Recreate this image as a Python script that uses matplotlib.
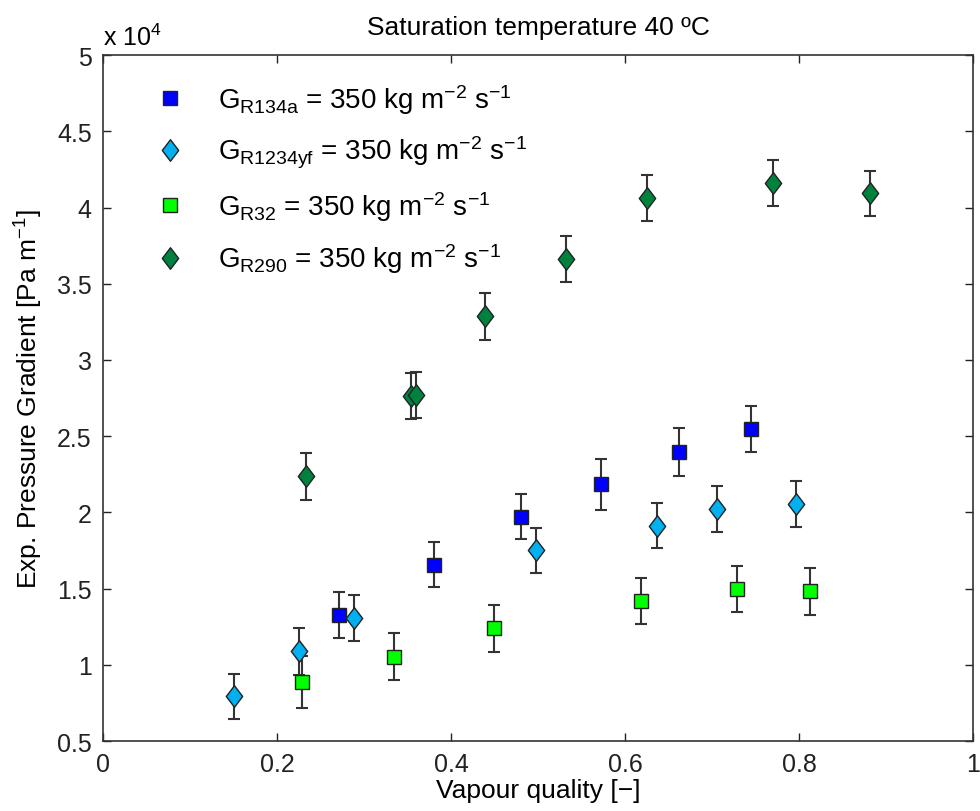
import numpy as np
import matplotlib
matplotlib.use('Agg')
import matplotlib.pyplot as plt
from matplotlib.path import Path
from matplotlib.ticker import FuncFormatter, MultipleLocator

plt.rcParams['font.family'] = ['Liberation Sans', 'DejaVu Sans']
plt.rcParams['mathtext.fontset'] = 'custom'
plt.rcParams['mathtext.rm'] = 'Liberation Sans'
plt.rcParams['mathtext.it'] = 'Liberation Sans'
plt.rcParams['mathtext.default'] = 'regular'

# Experimental pressure gradient [Pa/m] vs vapour quality, G = 350 kg m-2 s-1
x_r134a = [0.271, 0.381, 0.480, 0.572, 0.662, 0.745]
y_r134a = [13270, 16570, 19720, 21840, 23940, 25470]
e_r134a = [1500, 1480, 1480, 1680, 1570, 1500]

x_r1234yf = [0.151, 0.225, 0.289, 0.498, 0.637, 0.706, 0.797]
y_r1234yf = [7950, 10900, 13070, 17510, 19120, 20230, 20550]
e_r1234yf = [1480, 1550, 1500, 1500, 1480, 1480, 1500]

x_r32 = [0.229, 0.334, 0.449, 0.618, 0.729, 0.813]
y_r32 = [8870, 10530, 12390, 14190, 14970, 14820]
e_r32 = [1700, 1550, 1570, 1520, 1520, 1520]

x_r290 = [0.233, 0.354, 0.360, 0.439, 0.532, 0.625, 0.770, 0.882]
y_r290 = [22370, 27660, 27700, 32870, 36630, 40610, 41610, 40940]
e_r290 = [1530, 1500, 1500, 1550, 1530, 1500, 1500, 1480]

# MATLAB-style diamond: taller than wide
diamond = Path([(0, 1), (0.76, 0), (0, -1), (-0.76, 0), (0, 1)],
               [Path.MOVETO, Path.LINETO, Path.LINETO, Path.LINETO, Path.CLOSEPOLY])

series = [
    (x_r134a, y_r134a, e_r134a, 's', 10, '#0000FF', r'G$_{R134a}$ = 350 kg m$^{-2}$ s$^{-1}$'),
    (x_r1234yf, y_r1234yf, e_r1234yf, diamond, 15.5, '#00B0F0', r'G$_{R1234yf}$ = 350 kg m$^{-2}$ s$^{-1}$'),
    (x_r32, y_r32, e_r32, 's', 10, '#00FF00', r'G$_{R32}$ = 350 kg m$^{-2}$ s$^{-1}$'),
    (x_r290, y_r290, e_r290, diamond, 15.5, '#00823F', r'G$_{R290}$ = 350 kg m$^{-2}$ s$^{-1}$'),
]

fig = plt.figure(figsize=(9.8, 8.12), dpi=100)
ax = fig.add_axes([0.105, 0.086, 0.888, 0.845])

handles = []
for xs, ys, es, mk, ms, col, lab in series:
    ax.errorbar(xs, ys, yerr=es, fmt='none', ecolor='#333333', elinewidth=1.5,
                capsize=4.5, capthick=1.5, zorder=2)
    h, = ax.plot(xs, ys, linestyle='none', marker=mk, markersize=ms,
                 markerfacecolor=col, markeredgecolor='#222222',
                 markeredgewidth=1.0, label=lab, zorder=3)
    handles.append(h)

ax.set_xlim(0, 1)
ax.set_ylim(5000, 50000)
ax.xaxis.set_major_locator(MultipleLocator(0.2))
ax.yaxis.set_major_locator(MultipleLocator(5000))
ax.xaxis.set_major_formatter(FuncFormatter(lambda v, p: '%g' % round(v, 2)))
ax.yaxis.set_major_formatter(FuncFormatter(lambda v, p: '%g' % (v / 1e4)))
ax.tick_params(direction='in', top=True, right=True, length=6, width=1,
               labelsize=18, pad=8, colors='#222222')
for s in ax.spines.values():
    s.set_linewidth(1.2)
    s.set_color('#333333')

ax.text(0.0, 1.008, r'x 10$^4$', transform=ax.transAxes, fontsize=18,
        ha='left', va='bottom')
ax.set_title('Saturation temperature 40 ºC', fontsize=19, pad=15)
ax.set_xlabel('Vapour quality [\u2212]', fontsize=19, labelpad=1)
ax.set_ylabel(r'Exp. Pressure Gradient [Pa m$^{-1}$]', fontsize=19, labelpad=9)

ax.legend(handles=handles, loc='upper left', bbox_to_anchor=(0.048, 0.977),
          frameon=False, fontsize=20, handlelength=1.0, handletextpad=1.23,
          labelspacing=0.67, borderaxespad=0)

fig.savefig('out.png', dpi=100)
